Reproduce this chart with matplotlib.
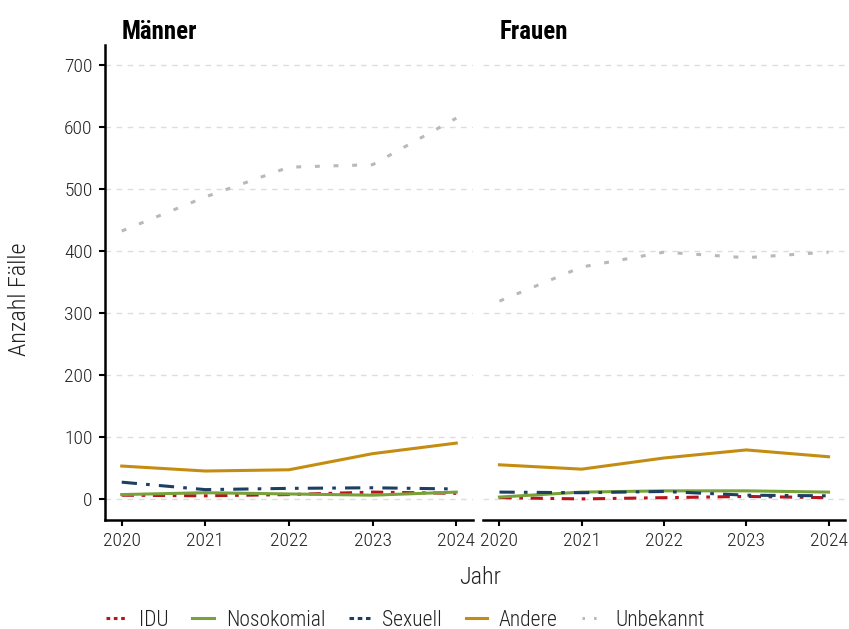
import matplotlib
matplotlib.use("Agg")
import matplotlib.pyplot as plt
from matplotlib import font_manager
from matplotlib.lines import Line2D

names = set(f.name for f in font_manager.fontManager.ttflist)
fam = "DejaVu Sans"
for cand in ["Roboto Condensed", "Liberation Sans Narrow", "Roboto"]:
    if cand in names:
        fam = cand
        break
plt.rcParams["font.family"] = [fam, "DejaVu Sans"]
plt.rcParams["font.weight"] = "light"

years = [2020, 2021, 2022, 2023, 2024]
panels = ["Männer", "Frauen"]
series = ["IDU", "Nosokomial", "Sexuell", "Andere", "Unbekannt"]

maenner = {
    "IDU":        [6, 5, 7, 11, 9],
    "Nosokomial": [7, 10, 8, 6, 11],
    "Sexuell":    [27, 15, 17, 18, 16],
    "Andere":     [53, 45, 47, 73, 90],
    "Unbekannt":  [432, 487, 535, 539, 614],
}
frauen = {
    "IDU":        [2, 0, 2, 4, 2],
    "Nosokomial": [3, 11, 13, 13, 11],
    "Sexuell":    [11, 10, 12, 6, 5],
    "Andere":     [55, 48, 66, 79, 68],
    "Unbekannt":  [319, 374, 398, 389, 398],
}

colors = {"IDU": "#B8141C", "Nosokomial": "#79A13A", "Sexuell": "#1C3F63",
          "Andere": "#C48D12", "Unbekannt": "#B9B9B9"}
dashes = {"IDU": (4, 2.5, 1.2, 2.5), "Nosokomial": None, "Sexuell": (5, 3, 1.2, 3),
          "Andere": None, "Unbekannt": (1.6, 4.5)}
leg_dashes = {"IDU": (1.2, 1.2), "Sexuell": (1.5, 1.2), "Unbekannt": (0.8, 3)}

txt = "#222222"

fig = plt.figure(figsize=(8.49, 6.29), dpi=100)
ax1 = fig.add_axes([105 / 849, 1 - 520 / 629, 368 / 849, 475 / 629])
ax2 = fig.add_axes([483 / 849, 1 - 520 / 629, 362 / 849, 475 / 629])

for ax, title, data in [(ax1, panels[0], maenner), (ax2, panels[1], frauen)]:
    for s in series:
        ln, = ax.plot(years, data[s], color=colors[s], lw=2.2, zorder=3)
        if dashes[s] is not None:
            ln.set_dashes(dashes[s])
    ax.set_xlim(2019.8, 2024.2)
    ax.set_ylim(-34, 732)
    ax.set_yticks([0, 100, 200, 300, 400, 500, 600, 700])
    ax.set_xticks(years)
    ax.grid(axis="y", color="#DDDDDD", lw=1, dashes=(4, 4))
    ax.set_axisbelow(True)
    for sp in ["top", "right"]:
        ax.spines[sp].set_visible(False)
    ax.spines["bottom"].set_linewidth(1.8)
    ax.spines["left"].set_linewidth(1.8)
    ax.tick_params(axis="both", labelsize=14, width=1.5, length=4, color="black", labelcolor=txt, pad=5)
    ax.set_title(title, loc="left", fontsize=18, fontweight="bold", x=0.045, pad=4)

ax2.spines["left"].set_visible(False)
ax2.tick_params(axis="y", left=False, labelleft=False)

fig.text(20 / 849, 1 - 299 / 629, "Anzahl Fälle", fontsize=17.5, rotation=90,
         ha="center", va="center", color=txt)
fig.text(480 / 849, 1 - 578 / 629, "Jahr", fontsize=17.5, ha="center", va="center", color=txt)

handles = []
for s in series:
    h = Line2D([0], [0], color=colors[s], lw=2.2)
    if s in leg_dashes:
        h.set_dashes(leg_dashes[s])
    handles.append(h)
fig.legend(handles, series, loc="center left", bbox_to_anchor=(97 / 849, 1 - 620 / 629), ncol=5, frameon=False,
           fontsize=15.5, handlelength=1.0, columnspacing=1.1, handletextpad=0.55, borderaxespad=0, labelcolor=txt)

fig.savefig("out.png", dpi=100)
